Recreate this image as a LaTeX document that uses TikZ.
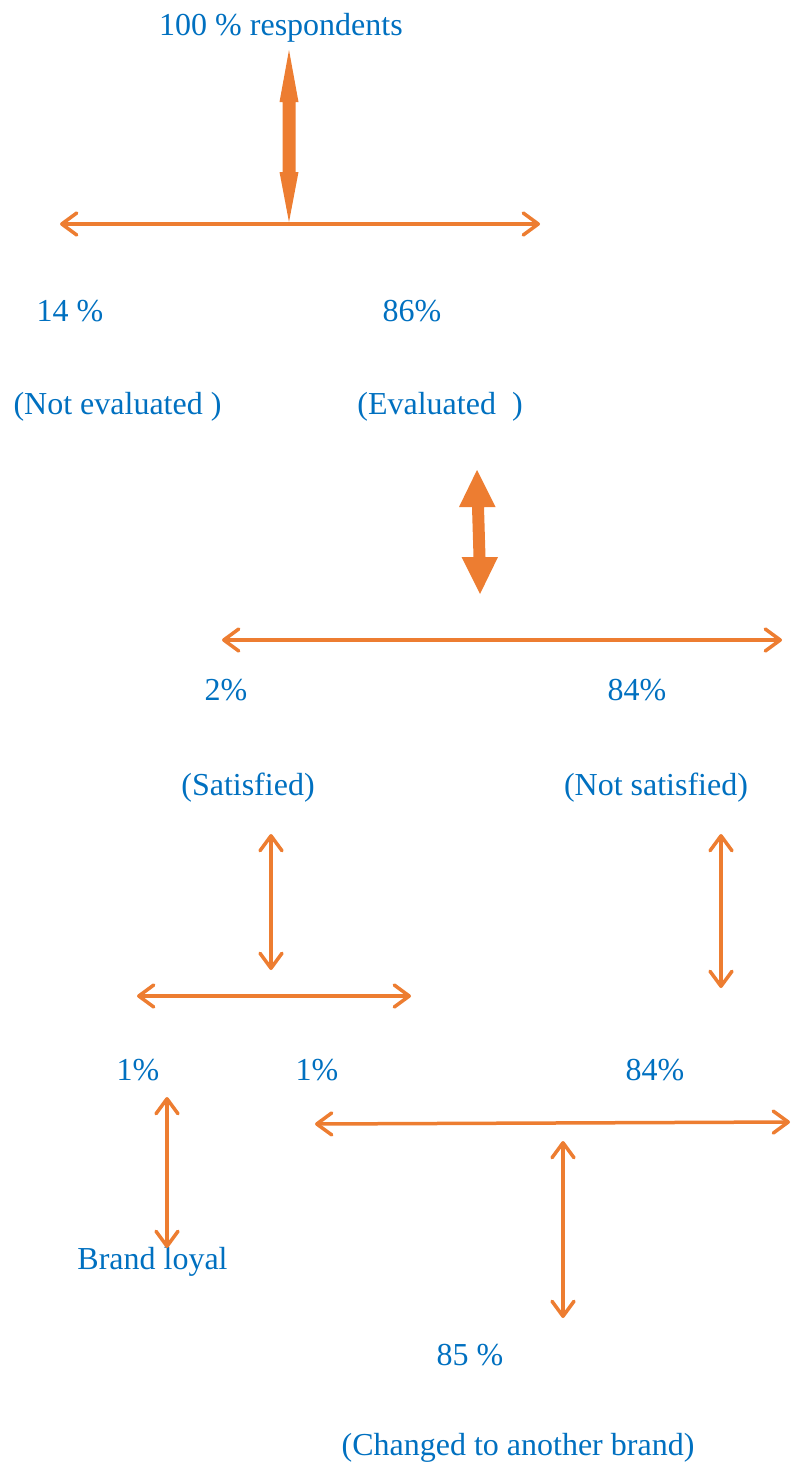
\documentclass[tikz,border=0pt]{standalone}
\usepackage{fontspec}
\setmainfont{Liberation Serif}
\usetikzlibrary{arrows.meta}
\definecolor{txtblue}{HTML}{0070C0}
\definecolor{arrorange}{HTML}{ED7D31}
\tikzset{
  lbl/.style={anchor=base, inner sep=0pt, text=txtblue, font=\fontsize{32}{38}\selectfont},
  thinarrow/.style={draw=arrorange, line width=3.5pt, line cap=round, line join=round,
    {Straight Barb[length=15pt,width=22pt,line cap=round,line join=round]}-{Straight Barb[length=15pt,width=22pt,line cap=round,line join=round]}},
  thickarrow/.style={fill=arrorange, draw=none}
}
\begin{document}
\begin{tikzpicture}[x=1pt,y=-1pt]
\useasboundingbox (0,0) rectangle (792,1464);

% text nodes
\node[lbl] (resp) at (281,36) {100 \% respondents};
\node[lbl] (p14) at (70,321) {14 \%};
\node[lbl] (p86) at (412,321) {86\%};
\node[lbl] (noteval) at (117.5,414) {(Not evaluated )};
\node[lbl] (eval) at (440,414) {(Evaluated\ \ )};
\node[lbl] (p2) at (226,700) {2\%};
\node[lbl] (p84a) at (637,700) {84\%};
\node[lbl] (sat) at (248,795) {(Satisfied)};
\node[lbl] (notsat) at (656,795) {(Not satisfied)};
\node[lbl] (p1a) at (138,1080) {1\%};
\node[lbl] (p1b) at (317,1080) {1\%};
\node[lbl] (p84b) at (655,1080) {84\%};
\node[lbl] (loyal) at (152.5,1269) {Brand loyal};
\node[lbl] (p85) at (470,1365) {85 \%};
\node[lbl] (changed) at (518,1455) {(Changed to another brand)};

% coordinates
\coordinate (a1t) at (289,50);
\coordinate (a1b) at (289,222);
\coordinate (h1l) at (60,224);
\coordinate (h1r) at (540,224);
\coordinate (a2t) at (477,470);
\coordinate (a2b) at (480,594);
\coordinate (h2l) at (222,640);
\coordinate (h2r) at (782,640);
\coordinate (v3t) at (271,834);
\coordinate (v3b) at (271,970);
\coordinate (v4t) at (721,834);
\coordinate (v4b) at (721,988);
\coordinate (h3l) at (137,996);
\coordinate (h3r) at (411,996);
\coordinate (h4l) at (315,1124);
\coordinate (h4r) at (790,1122);
\coordinate (v5t) at (167,1097);
\coordinate (v5b) at (167,1248);
\coordinate (v6t) at (563,1141);
\coordinate (v6b) at (563,1318);

% thick double arrow 1
\fill[thickarrow] (a1t) -- (298.5,102) -- (295.5,102) -- (295.5,172) -- (298.5,172)
  -- (a1b) -- (279.5,172) -- (282.5,172) -- (282.5,102) -- (279.5,102) -- cycle;

% thin horizontal 1
\draw[thinarrow] (h1l) -- (h1r);

% thick double arrow 2
\fill[thickarrow] (a2t) -- (495.5,507) -- (484,507) -- (485.5,557) -- (498,557)
  -- (a2b) -- (461.5,557) -- (473.5,557) -- (472,507) -- (459,507) -- cycle;

\draw[thinarrow] (h2l) -- (h2r);
\draw[thinarrow] (v3t) -- (v3b);
\draw[thinarrow] (v4t) -- (v4b);
\draw[thinarrow] (h3l) -- (h3r);
\draw[thinarrow] (h4l) -- (h4r);
\draw[thinarrow] (v5t) -- (v5b);
\draw[thinarrow] (v6t) -- (v6b);
\end{tikzpicture}
\end{document}
